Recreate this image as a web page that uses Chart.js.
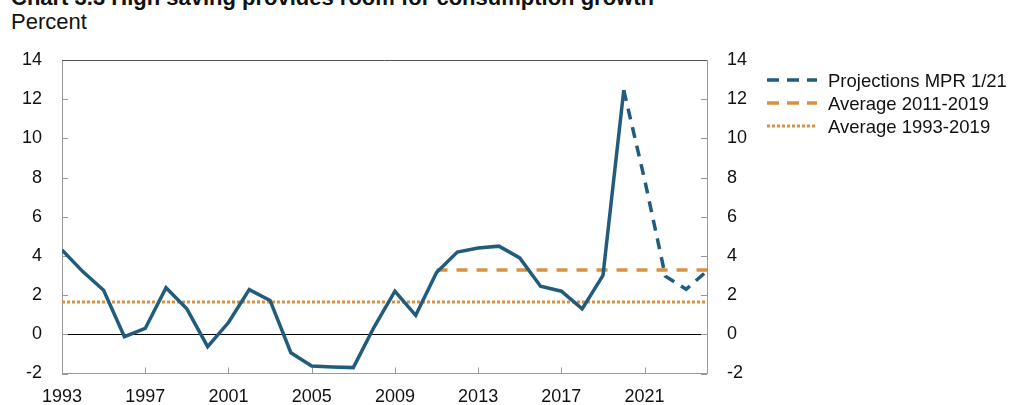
<!DOCTYPE html>
<html>
<head>
<meta charset="utf-8">
<script src="https://cdn.jsdelivr.net/npm/chart.js@4/dist/chart.umd.min.js"></script>
<style>
  html, body { margin: 0; padding: 0; background: #fff; }
  #wrap { position: relative; width: 1010px; height: 405px; overflow: hidden; font-family: "Liberation Sans", Arial, Helvetica, sans-serif; color: #111; }
  #wrap canvas { position: absolute; left: 0; top: 0; }
  .title { position: absolute; left: 11px; top: -12.6px; font-size: 22px; line-height: 22px; font-weight: bold; white-space: nowrap; }
  .unit { position: absolute; left: 11px; top: 11.4px; font-size: 22px; line-height: 22px; white-space: nowrap; }
  .legend { position: absolute; left: 767px; top: 0; }
  .legend .row { position: absolute; left: 0; height: 23px; display: flex; align-items: center; white-space: nowrap; }
  .legend .row svg { width: 50px; height: 10px; margin-right: 11px; }
  .legend .row span { font-size: 18.5px; line-height: 23px; }
</style>
</head>
<body>
<div id="wrap">
  <div class="title">Chart 3.3 High saving provides room for consumption growth</div>
  <div class="unit">Percent</div>
  <canvas id="chart" width="1010" height="405" style="width:1010px;height:405px"></canvas>
  <div class="legend" id="legend"></div>
</div>
<script>
// saving ratio, households, percent
const histYears = [1993, 1994, 1995, 1996, 1997, 1998, 1999, 2000, 2001, 2002, 2003, 2004, 2005, 2006,
  2007, 2008, 2009, 2010, 2011, 2012, 2013, 2014, 2015, 2016, 2017, 2018, 2019, 2020];
const histValues = [4.3, 3.2, 2.25, -0.12, 0.3, 2.38, 1.3, -0.63, 0.6, 2.28, 1.73, -0.94, -1.62, -1.67,
  -1.7, 0.37, 2.2, 0.97, 3.15, 4.2, 4.4, 4.5, 3.9, 2.45, 2.2, 1.3, 3.0, 12.46];

const projYears = [2020, 2021, 2022, 2023, 2024];
const projValues = [12.46, 7.9, 2.97, 2.3, 3.23];

const avgRecentYears = [2011, 2024];
const avgRecentValues = [3.28, 3.28];
const avgLongYears = [1993, 2024];
const avgLongValues = [1.65, 1.65];

const xTickYears = [1993, 1997, 2001, 2005, 2009, 2013, 2017, 2021];
const yTicks = [-2, 0, 2, 4, 6, 8, 10, 12, 14];

const legendLabels = ['Projections MPR 1/21', 'Average 2011-2019', 'Average 1993-2019'];

const BLUE = '#215c7c';
const ORANGE = '#d79141';
const FONT = '"Liberation Sans", Arial, Helvetica, sans-serif';

const toPoints = (xs, ys) => xs.map((x, i) => ({ x: x, y: ys[i] }));

// inward tick marks and the top border line
const frameTicks = {
  id: 'frameTicks',
  beforeDatasetsDraw(chart) {
    const { ctx, chartArea } = chart;
    const x = chart.scales.x;
    const y = chart.scales.y;
    ctx.save();
    ctx.lineWidth = 1;
    ctx.strokeStyle = '#999';
    ctx.beginPath();
    xTickYears.forEach(v => {
      const px = Math.round(x.getPixelForValue(v)) + 0.5;
      ctx.moveTo(px, chartArea.bottom);
      ctx.lineTo(px, chartArea.bottom - 6);
    });
    yTicks.forEach(v => {
      const py = Math.round(y.getPixelForValue(v)) + 0.5;
      ctx.moveTo(chartArea.left, py);
      ctx.lineTo(chartArea.left + 6, py);
      ctx.moveTo(chartArea.right, py);
      ctx.lineTo(chartArea.right - 6, py);
    });
    ctx.stroke();
    ctx.strokeStyle = '#555';
    ctx.beginPath();
    ctx.moveTo(chartArea.left, Math.round(chartArea.top) + 0.5);
    ctx.lineTo(chartArea.right, Math.round(chartArea.top) + 0.5);
    ctx.stroke();
    ctx.restore();
  }
};

const yAxisBase = {
  type: 'linear',
  min: -2,
  max: 14,
  ticks: {
    stepSize: 2,
    color: '#111',
    font: { family: FONT, size: 18 },
    padding: 20
  },
  border: { display: true, color: '#999', width: 1 }
};

new Chart(document.getElementById('chart'), {
  type: 'line',
  data: {
    datasets: [
      {
        label: 'Saving ratio',
        data: toPoints(histYears, histValues),
        borderColor: BLUE,
        borderWidth: 3.5,
        pointRadius: 0,
        tension: 0,
        fill: false
      },
      {
        label: legendLabels[0],
        data: toPoints(projYears, projValues),
        borderColor: BLUE,
        borderWidth: 3.5,
        borderDash: [11, 8],
        pointRadius: 0,
        tension: 0,
        fill: false
      },
      {
        label: legendLabels[1],
        data: toPoints(avgRecentYears, avgRecentValues),
        borderColor: ORANGE,
        borderWidth: 3.5,
        borderDash: [11, 9],
        pointRadius: 0,
        fill: false
      },
      {
        label: legendLabels[2],
        data: toPoints(avgLongYears, avgLongValues),
        borderColor: ORANGE,
        borderWidth: 3,
        borderDash: [3, 2],
        pointRadius: 0,
        fill: false
      }
    ]
  },
  options: {
    responsive: false,
    animation: false,
    devicePixelRatio: 1,
    layout: { padding: { top: 60, left: 0, right: 0, bottom: 0 } },
    plugins: {
      legend: { display: false },
      tooltip: { enabled: false }
    },
    scales: {
      x: {
        type: 'linear',
        position: 'bottom',
        min: 1993,
        max: 2024,
        afterBuildTicks: (scale) => {
          scale.ticks = xTickYears.map(v => ({ value: v }));
        },
        afterFit: (scale) => { scale.height = 31.5; },
        ticks: {
          color: '#111',
          font: { family: FONT, size: 18 },
          padding: 13,
          maxRotation: 0,
          autoSkip: false,
          callback: (v) => String(v)
        },
        grid: { display: false, drawTicks: false },
        border: { display: true, color: '#999', width: 1 }
      },
      y: {
        ...yAxisBase,
        position: 'left',
        afterFit: (scale) => { scale.width = 62; },
        grid: {
          drawTicks: false,
          color: (ctx) => (ctx.tick && ctx.tick.value === 0 ? '#000' : 'rgba(0,0,0,0)'),
          lineWidth: 1
        }
      },
      y2: {
        ...yAxisBase,
        position: 'right',
        afterFit: (scale) => { scale.width = 303; },
        grid: { display: false, drawTicks: false }
      }
    }
  },
  plugins: [frameTicks]
});

// legend built as html
const legendStyles = [
  { color: BLUE, dash: '12,8', width: 3.5 },
  { color: ORANGE, dash: '12,8', width: 3.5 },
  { color: ORANGE, dash: '3,2', width: 3 }
];
const legendRowsY = [80, 103, 126];
const legendEl = document.getElementById('legend');
legendLabels.forEach((text, i) => {
  const st = legendStyles[i];
  const row = document.createElement('div');
  row.className = 'row';
  row.style.top = (legendRowsY[i] - 11.5) + 'px';
  row.innerHTML =
    '<svg viewBox="0 0 50 10"><line x1="0" y1="5" x2="50" y2="5" stroke="' + st.color +
    '" stroke-width="' + st.width + '" stroke-dasharray="' + st.dash + '"/></svg><span>' + text + '</span>';
  legendEl.appendChild(row);
});
</script>
</body>
</html>
